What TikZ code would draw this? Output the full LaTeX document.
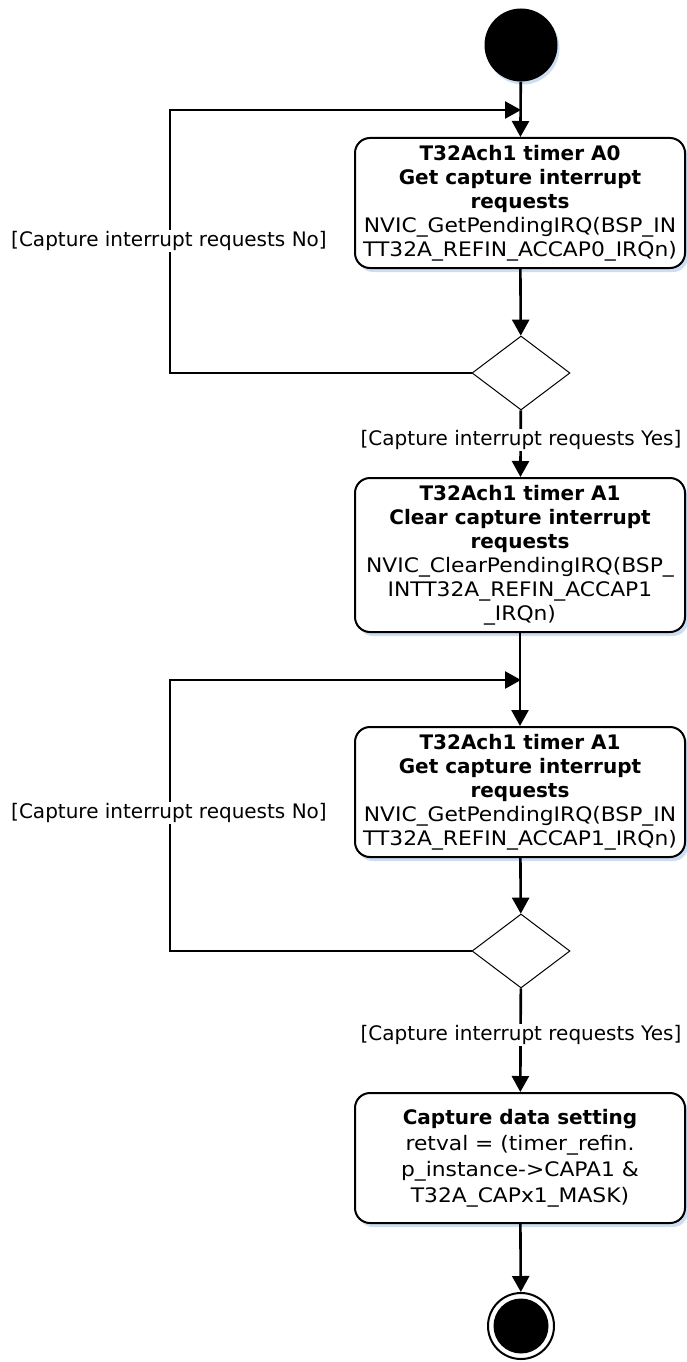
\documentclass[tikz,border=0pt]{standalone}
\usepackage{fontspec}
\setmainfont{DejaVu Sans}
\newfontfamily\codefont{DejaVu Sans}[FakeStretch=1.09]
\usetikzlibrary{arrows.meta,shapes.geometric,shadows}
\definecolor{shadowblue}{RGB}{205,222,242}
\begin{document}
\begin{tikzpicture}[x=1pt,y=-1pt,
  font=\fontsize{20}{24}\selectfont,
  act/.style={draw, line width=2pt, rounded corners=15pt, fill=white,
    minimum width=330pt, align=center, inner sep=2pt,
    drop shadow={shadow xshift=3pt, shadow yshift=-4pt, fill=shadowblue, opacity=1}},
  decis/.style={draw, diamond, line width=1pt, fill=white, inner sep=0pt,
    minimum width=98pt, minimum height=74pt, aspect=1.32},
  flow/.style={line width=2.6pt, -{Triangle[length=16pt,width=17pt]}},
  guard/.style={fill=white, inner sep=1pt}
]
\useasboundingbox (0,0) rectangle (686,1362);

\node[circle, fill=black, minimum size=73pt, inner sep=0pt,
  drop shadow={shadow xshift=2pt, shadow yshift=-3pt, fill=shadowblue, opacity=1}] (start) at (521,45) {};

\node[act, minimum height=130pt] (box1) at (520,203)
  {\textbf{T32Ach1 timer A0}\\\textbf{Get capture interrupt}\\\textbf{requests}\\{\codefont NVIC\_GetPendingIRQ(BSP\_IN}\\{\codefont TT32A\_REFIN\_ACCAP0\_IRQn)}};

\node[decis] (d1) at (521,373) {};

\node[act, minimum height=154pt] (box2) at (520,555)
  {\textbf{T32Ach1 timer A1}\\\textbf{Clear capture interrupt}\\\textbf{requests}\\{\codefont NVIC\_ClearPendingIRQ(BSP\_}\\{\codefont INTT32A\_REFIN\_ACCAP1}\\{\codefont \_IRQn)}};

\node[act, minimum height=130pt] (box3) at (520,792)
  {\textbf{T32Ach1 timer A1}\\\textbf{Get capture interrupt}\\\textbf{requests}\\{\codefont NVIC\_GetPendingIRQ(BSP\_IN}\\{\codefont TT32A\_REFIN\_ACCAP1\_IRQn)}};

\node[decis] (d2) at (521,951) {};

\node[act, minimum height=130pt, font=\fontsize{20}{26}\selectfont] (box4) at (520,1158)
  {\textbf{Capture data setting}\\{\codefont retval = (timer\_refin.}\\{\codefont p\_instance->CAPA1 \&}\\{\codefont T32A\_CAPx1\_MASK)}};

\node[circle, draw, line width=2pt, fill=white, minimum size=66pt, inner sep=0pt] (endc) at (521,1326) {};
\fill (endc.center) circle[radius=27.5pt];

\coordinate (j1) at (521,110);
\coordinate (c1) at (170,110);
\coordinate (j2) at (521,680);
\coordinate (c2) at (170,680);

% connectors
\draw[flow] (start) -- (box1);
\draw[flow] (box1) -- (d1);
\draw[flow] (d1.west) -- (d1.west -| c1) -- (c1) -- (j1);
\draw[flow] (d1) -- (box2);
\draw[flow] (box2) -- (box3);
\draw[flow] (box3) -- (d2);
\draw[flow] (d2.west) -- (d2.west -| c2) -- (c2) -- (j2);
\draw[flow] (d2) -- (box4);
\draw[flow] (box4) -- (endc);

% guards
\node[guard] (no1) at (169,241) {[Capture interrupt requests No]};
\node[guard] (yes1) at (521,440) {[Capture interrupt requests Yes]};
\node[guard] (no2) at (169,813) {[Capture interrupt requests No]};
\node[guard] (yes2) at (521,1035) {[Capture interrupt requests Yes]};
\end{tikzpicture}
\end{document}
